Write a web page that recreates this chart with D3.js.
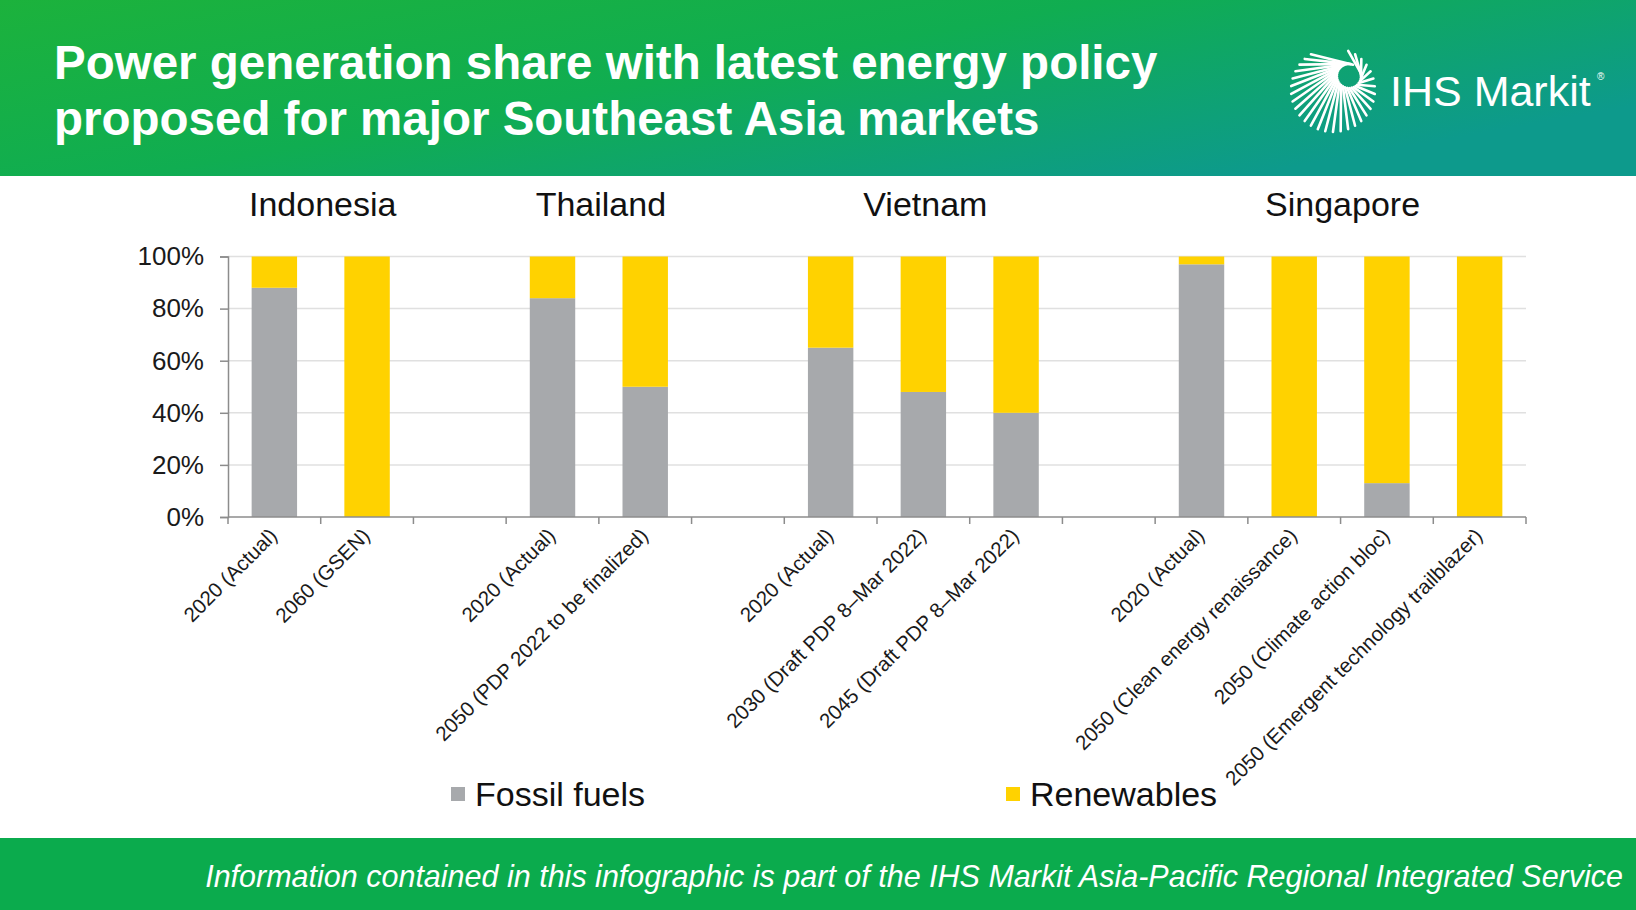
<!DOCTYPE html>
<html>
<head>
<meta charset="utf-8">
<script src="https://cdn.jsdelivr.net/npm/d3@7/dist/d3.min.js"></script>
<style>
  body { margin: 0; background: #fff; }
  text { font-family: "Liberation Sans", Arial, sans-serif; }
</style>
</head>
<body>
<svg id="chart" width="1636" height="910"></svg>
<script>
// ---- data ----
var countries = ["Indonesia", "Thailand", "Vietnam", "Singapore"];
var scenarioCountry = ["Indonesia", "Indonesia", "Thailand", "Thailand", "Vietnam", "Vietnam", "Vietnam",
    "Singapore", "Singapore", "Singapore", "Singapore"];
var scenarioLabels = ["2020 (Actual)", "2060 (GSEN)", "2020 (Actual)", "2050 (PDP 2022 to be finalized)",
    "2020 (Actual)", "2030 (Draft PDP 8\u2013Mar 2022)", "2045 (Draft PDP 8\u2013Mar 2022)",
    "2020 (Actual)", "2050 (Clean energy renaissance)", "2050 (Climate action bloc)", "2050 (Emergent technology trailblazer)"];
var fossil =     [0.88, 0.00, 0.84, 0.50, 0.65, 0.48, 0.40, 0.97, 0.00, 0.13, 0.00];
var renewables = [0.12, 1.00, 0.16, 0.50, 0.35, 0.52, 0.60, 0.03, 1.00, 0.87, 1.00];
var yTicks = [0, 0.2, 0.4, 0.6, 0.8, 1.0];
var seriesNames = ["Fossil fuels", "Renewables"];
var seriesColors = ["#a7a9ac", "#ffd200"];

var svg = d3.select("#chart"),
    width = +svg.attr("width"),
    height = +svg.attr("height");

// build the slot list: scenarios per country with an empty slot between countries
var rows = scenarioLabels.map(function (l, i) {
  return { key: "s" + i, label: l, country: scenarioCountry[i], fossil: fossil[i], renew: renewables[i] };
});
var slots = [];
countries.forEach(function (c, ci) {
  if (ci > 0) slots.push("gap" + ci);
  rows.filter(function (r) { return r.country == c; }).forEach(function (r) { slots.push(r.key); });
});

// ---- header ----
var defs = svg.append("defs");
var grad = defs.append("linearGradient").attr("id", "hdr")
    .attr("x1", "0").attr("y1", "0").attr("x2", "1").attr("y2", "0.6");
grad.append("stop").attr("offset", "0%").attr("stop-color", "#1cb23c");
grad.append("stop").attr("offset", "50%").attr("stop-color", "#10ad51");
grad.append("stop").attr("offset", "100%").attr("stop-color", "#0d9a8c");

svg.append("rect").attr("x", 0).attr("y", 0).attr("width", width).attr("height", 176)
    .attr("fill", "url(#hdr)");

svg.append("text").attr("x", 54).attr("y", 79)
    .attr("fill", "white").attr("font-size", 47.5).attr("font-weight", "bold")
    .text("Power generation share with latest energy policy");
svg.append("text").attr("x", 54).attr("y", 135)
    .attr("fill", "white").attr("font-size", 47.5).attr("font-weight", "bold")
    .text("proposed for major Southeast Asia markets");

// logo
var logo = svg.append("g").attr("stroke", "white").attr("stroke-width", 2.6).attr("stroke-linecap", "round");
var hole = [1349, 76], holeR = 12, outer = [1333, 90], outerR = 42;
for (var k = 0; k < 34; k++) {
  var a = -1.2 + k * (2 * Math.PI / 34);
  if (a > 4.2) continue;
  var sx = hole[0] + holeR * Math.cos(a + 0.9), sy = hole[1] + holeR * Math.sin(a + 0.9);
  var ex = outer[0] + outerR * Math.cos(a), ey = outer[1] + outerR * Math.sin(a);
  logo.append("line").attr("x1", sx).attr("y1", sy).attr("x2", ex).attr("y2", ey);
}
svg.append("text").attr("x", 1390).attr("y", 106)
    .attr("fill", "white").attr("font-size", 43).attr("font-family", "Roboto").attr("font-weight", 300)
    .text("IHS Markit");
svg.append("text").attr("x", 1597).attr("y", 80)
    .attr("fill", "white").attr("font-size", 10).attr("font-family", "Roboto")
    .text("\u00ae");

// ---- chart ----
var x = d3.scaleBand().domain(slots).range([228, 1526]).padding(0);
var y = d3.scaleLinear().domain([0, 1]).range([517, 256.5]);
var barW = x.bandwidth() * 0.49;

// gridlines
svg.append("g").selectAll("line").data(yTicks.slice(1)).enter().append("line")
    .attr("x1", 228).attr("x2", x.range()[1])
    .attr("y1", function (d) { return y(d); }).attr("y2", function (d) { return y(d); })
    .attr("stroke", "#e0e0e0").attr("stroke-width", 1.5);

// bars
var bars = svg.append("g");
bars.selectAll("rect.fossil").data(rows).enter().append("rect")
    .attr("class", "fossil")
    .attr("x", function (d) { return x(d.key) + (x.bandwidth() - barW) / 2; })
    .attr("width", barW)
    .attr("y", function (d) { return y(d.fossil); })
    .attr("height", function (d) { return y(0) - y(d.fossil); })
    .attr("fill", seriesColors[0]);
bars.selectAll("rect.renew").data(rows).enter().append("rect")
    .attr("class", "renew")
    .attr("x", function (d) { return x(d.key) + (x.bandwidth() - barW) / 2; })
    .attr("width", barW)
    .attr("y", function (d) { return y(d.fossil + d.renew); })
    .attr("height", function (d) { return y(d.fossil) - y(d.fossil + d.renew); })
    .attr("fill", seriesColors[1]);

// y axis
var yAxis = svg.append("g").attr("transform", "translate(228,0)")
    .call(d3.axisLeft(y).tickValues(yTicks).tickFormat(d3.format(".0%")).tickSize(8).tickPadding(16));
yAxis.select(".domain").attr("stroke", "#8c8c8c").attr("stroke-width", 1.5);
yAxis.selectAll(".tick line").attr("stroke", "#8c8c8c").attr("stroke-width", 1.5);
yAxis.selectAll(".tick text").attr("font-size", 26).attr("fill", "#1a1a1a")
    .attr("font-family", "Liberation Sans, Arial, sans-serif");

// x axis: line with ticks at slot boundaries
var bounds = slots.map(function (s) { return x(s); }).concat([x.range()[1]]);
var xAxis = svg.append("g");
xAxis.append("line").attr("x1", 228).attr("x2", x.range()[1]).attr("y1", y(0)).attr("y2", y(0))
    .attr("stroke", "#8c8c8c").attr("stroke-width", 1.5);
xAxis.selectAll("line.tk").data(bounds).enter().append("line").attr("class", "tk")
    .attr("x1", function (d) { return d; }).attr("x2", function (d) { return d; })
    .attr("y1", y(0)).attr("y2", y(0) + 7)
    .attr("stroke", "#8c8c8c").attr("stroke-width", 1.5);

// rotated category labels
xAxis.selectAll("text").data(rows).enter().append("text")
    .attr("text-anchor", "end")
    .attr("font-size", 20.5).attr("fill", "#1a1a1a")
    .attr("transform", function (d) {
      return "translate(" + (x(d.key) + x.bandwidth() / 2 + 4) + "," + (y(0) + 20) + ") rotate(-45)";
    })
    .text(function (d) { return d.label; });

// country labels
svg.append("g").selectAll("text").data(countries).enter().append("text")
    .attr("text-anchor", "middle").attr("font-size", 34).attr("fill", "#111")
    .attr("x", function (c) {
      var ks = rows.filter(function (r) { return r.country == c; }).map(function (r) { return r.key; });
      return (x(ks[0]) + x(ks[ks.length - 1]) + x.bandwidth()) / 2 + 2;
    })
    .attr("y", 216)
    .text(function (c) { return c; });

// legend
var legendX = [451, 1006];
var lg = svg.append("g").selectAll("g").data(seriesNames).enter().append("g")
    .attr("transform", function (d, i) { return "translate(" + legendX[i] + ",0)"; });
lg.append("rect").attr("x", 0).attr("y", 787).attr("width", 14).attr("height", 14)
    .attr("fill", function (d, i) { return seriesColors[i]; });
lg.append("text").attr("x", 24).attr("y", 806).attr("font-size", 34).attr("fill", "#111")
    .text(function (d) { return d; });

// ---- footer ----
svg.append("rect").attr("x", 0).attr("y", 838).attr("width", width).attr("height", height - 838)
    .attr("fill", "#0bab4d");
svg.append("text").attr("x", 1623).attr("y", 887).attr("text-anchor", "end")
    .attr("fill", "white").attr("font-size", 30.5).attr("font-style", "italic")
    .text("Information contained in this infographic is part of the IHS Markit Asia-Pacific Regional Integrated Service");
</script>
</body>
</html>
